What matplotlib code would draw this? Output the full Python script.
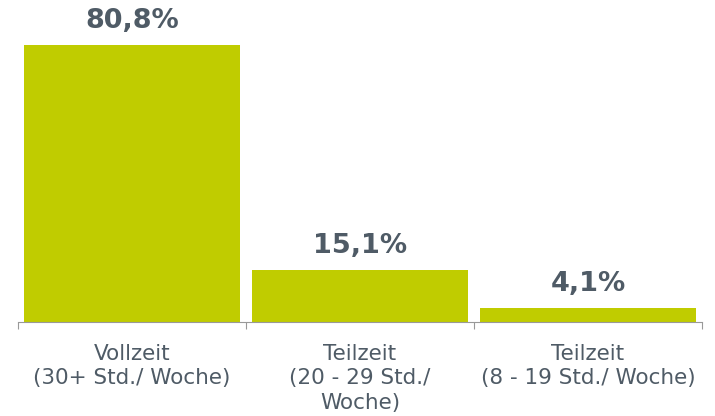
import matplotlib
matplotlib.use("Agg")
import matplotlib.pyplot as plt

categories = ["Vollzeit\n(30+ Std./ Woche)", "Teilzeit\n(20 - 29 Std./\nWoche)", "Teilzeit\n(8 - 19 Std./ Woche)"]
values = [80.8, 15.1, 4.1]
value_labels = ["80,8%", "15,1%", "4,1%"]

plt.rcParams['font.family'] = ['DejaVu Sans']
fig = plt.figure(figsize=(7.15, 4.16), dpi=100)
ax = fig.add_axes([18/715, (416-322)/416, 684/715, 322/416])
x = range(len(values))
ax.bar(x, values, width=0.95, color="#c0cc00")
ax.set_xlim(-0.5, len(values) - 0.5)
ax.set_ylim(0, 322/3.43)
for xi, v, lab in zip(x, values, value_labels):
    ax.annotate(lab, (xi, v), xytext=(0, 8), textcoords="offset points",
                ha="center", va="bottom", fontsize=19.5, fontweight="bold", color="#4f5b66")
for s in ["top", "right", "left"]:
    ax.spines[s].set_visible(False)
ax.spines["bottom"].set_color("#999999")
ax.set_yticks([])
ax.set_xticks([-0.5, 0.5, 1.5, 2.5])
ax.set_xticklabels([])
ax.tick_params(axis="x", length=5, color="#999999")
ax.set_xticks(list(x), minor=True)
ax.set_xticklabels(categories, minor=True, fontsize=15.5, color="#4f5b66", linespacing=1.26)
ax.tick_params(axis="x", which="minor", length=0, pad=16)
fig.savefig("out.png", dpi=100)
